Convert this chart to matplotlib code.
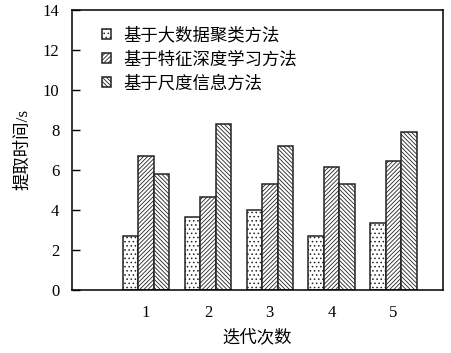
import numpy as np
import matplotlib
matplotlib.use("Agg")
import matplotlib.pyplot as plt

plt.rcParams['font.family'] = ['Liberation Serif', 'Noto Sans CJK SC']
plt.rcParams['hatch.linewidth'] = 0.6

# 数据
iterations = [1, 2, 3, 4, 5]
method_labels = ['基于大数据聚类方法', '基于特征深度学习方法', '基于尺度信息方法']
big_data = [2.7, 3.63, 4.0, 2.7, 3.33]
deep_feat = [6.7, 4.62, 5.28, 6.15, 6.45]
scale_info = [5.78, 8.3, 7.2, 5.28, 7.88]
series = [big_data, deep_feat, scale_info]
hatches = ['....', '////////', '\\\\\\\\\\\\\\\\']

fig = plt.figure(figsize=(4.52, 3.53), dpi=100)
ax = fig.add_axes([0.159, 0.1785, 0.821, 0.7945])

x = np.array(iterations, dtype=float)
w = 0.25
for i, (vals, h, lab) in enumerate(zip(series, hatches, method_labels)):
    ax.bar(x + (i - 1) * w, vals, width=w, facecolor='white', edgecolor='#222222',
           linewidth=1.1, hatch=h, label=lab)

ax.set_xlim(-0.2, 5.8)
ax.set_ylim(0, 14)
ax.set_yticks(np.arange(0, 15, 2))
ax.set_xticks(iterations)
ax.tick_params(axis='y', direction='in', length=6, width=1, pad=9, labelsize=12)
ax.tick_params(axis='x', length=0, pad=11, labelsize=12)
for s in ax.spines.values():
    s.set_linewidth(1.1)

ax.set_xlabel('迭代次数', fontsize=12.5, labelpad=6)
ax.set_ylabel('提取时间/s', fontsize=12.5, labelpad=8)

ax.legend(loc='upper left', bbox_to_anchor=(0.04, 0.99), frameon=False,
          fontsize=12.5, handlelength=0.5, handleheight=0.5, handletextpad=0.7,
          labelspacing=0.42)

fig.savefig('out.png', dpi=100)
